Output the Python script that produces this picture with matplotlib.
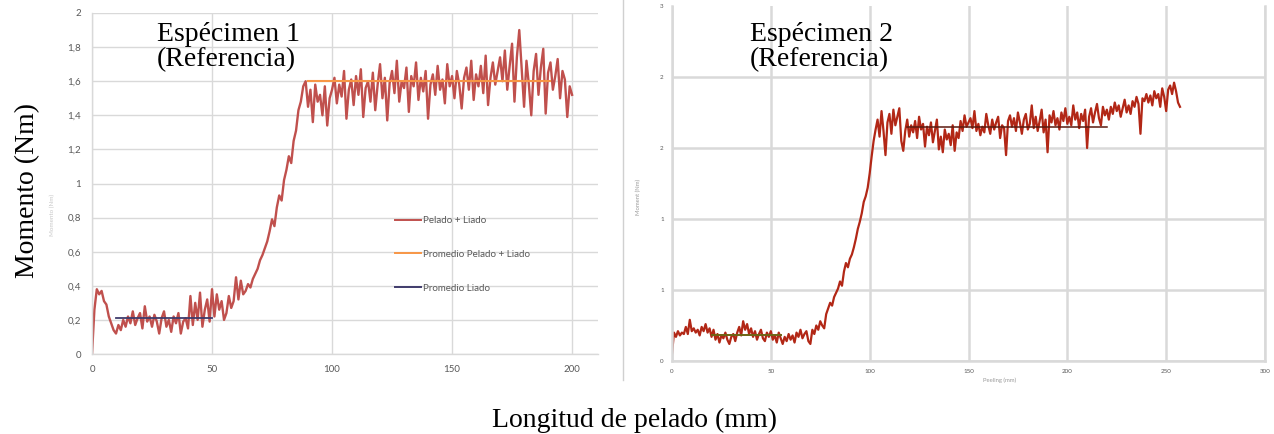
import numpy as np
import matplotlib
matplotlib.use("Agg")
import matplotlib.pyplot as plt
from matplotlib.lines import Line2D

# ---- data, specimen 1 (x in mm, step 1) ----
esp1_y = [
    0.00, 0.26, 0.38, 0.35, 0.37, 0.31, 0.29, 0.22, 0.18, 0.14, 0.12,
    0.17, 0.14, 0.20, 0.16, 0.22, 0.18, 0.25, 0.17, 0.21, 0.24,
    0.15, 0.28, 0.19, 0.22, 0.16, 0.23, 0.19, 0.12, 0.21, 0.25,
    0.16, 0.20, 0.13, 0.22, 0.18, 0.24, 0.12, 0.19, 0.21, 0.15,
    0.34, 0.17, 0.30, 0.20, 0.36, 0.16, 0.26, 0.32, 0.19, 0.38,
    0.22, 0.35, 0.26, 0.31, 0.20, 0.24, 0.34, 0.27, 0.31, 0.45,
    0.32, 0.43, 0.35, 0.37, 0.41, 0.39, 0.44, 0.47, 0.50, 0.55,
    0.58, 0.62, 0.66, 0.72, 0.79, 0.75, 0.86, 0.93, 0.90, 1.02,
    1.08, 1.16, 1.12, 1.25, 1.31, 1.43, 1.48, 1.57, 1.60, 1.45,
    1.55, 1.36, 1.58, 1.48, 1.52, 1.40, 1.57, 1.34, 1.50, 1.55,
    1.62, 1.47, 1.58, 1.51, 1.66, 1.38, 1.55, 1.61, 1.46, 1.63,
    1.52, 1.67, 1.39, 1.56, 1.60, 1.48, 1.65, 1.43, 1.58, 1.70,
    1.50, 1.62, 1.37, 1.59, 1.66, 1.53, 1.72, 1.48, 1.60, 1.56,
    1.68, 1.42, 1.63, 1.57, 1.71, 1.49, 1.62, 1.54, 1.66, 1.38,
    1.58, 1.64, 1.52, 1.69, 1.55, 1.61, 1.47, 1.70, 1.57, 1.63,
    1.50, 1.66, 1.58, 1.44, 1.62, 1.68, 1.55, 1.72, 1.49, 1.64,
    1.57, 1.69, 1.53, 1.75, 1.46, 1.62, 1.71, 1.58, 1.66, 1.74,
    1.60, 1.78, 1.55, 1.69, 1.82, 1.48, 1.74, 1.90, 1.67, 1.45,
    1.72, 1.58, 1.40, 1.66, 1.76, 1.52, 1.68, 1.79, 1.41, 1.65,
    1.71, 1.55, 1.63, 1.73, 1.50, 1.66, 1.61, 1.39, 1.57, 1.52,
]
esp1_x = np.arange(len(esp1_y))
esp1_prom_liado_x = [10, 50]
esp1_prom_liado_y = [0.21, 0.21]
esp1_prom_total_x = [90, 191]
esp1_prom_total_y = [1.60, 1.60]

# ---- data, specimen 2 ----
esp2_y = [
    0.05, 0.20, 0.17, 0.21, 0.18, 0.20, 0.19, 0.24, 0.19, 0.29, 0.21,
    0.23, 0.20, 0.22, 0.18, 0.24, 0.21, 0.26, 0.20, 0.23, 0.17,
    0.22, 0.15, 0.19, 0.13, 0.18, 0.16, 0.20, 0.15, 0.12, 0.17,
    0.19, 0.14, 0.20, 0.24, 0.18, 0.28, 0.22, 0.26, 0.19, 0.23,
    0.17, 0.21, 0.15, 0.19, 0.22, 0.16, 0.14, 0.20, 0.17, 0.21,
    0.15, 0.18, 0.13, 0.20, 0.16, 0.12, 0.17, 0.14, 0.19, 0.15,
    0.18, 0.13, 0.20, 0.17, 0.22, 0.16, 0.19, 0.21, 0.14, 0.12,
    0.22, 0.19, 0.25, 0.22, 0.28, 0.25, 0.23, 0.33, 0.37, 0.41,
    0.39, 0.45, 0.48, 0.51, 0.56, 0.53, 0.63, 0.69, 0.66, 0.72,
    0.75, 0.80, 0.86, 0.93, 0.98, 1.04, 1.12, 1.16, 1.22, 1.32,
    1.44, 1.55, 1.63, 1.70, 1.58, 1.76, 1.62, 1.45, 1.68, 1.74,
    1.60, 1.77, 1.66, 1.72, 1.78, 1.55, 1.48, 1.62, 1.70, 1.58,
    1.66, 1.61, 1.69, 1.57, 1.72, 1.63, 1.67, 1.51, 1.65, 1.59,
    1.68, 1.54, 1.62, 1.70, 1.49, 1.58, 1.47, 1.63, 1.56, 1.60,
    1.52, 1.66, 1.48, 1.61, 1.57, 1.69, 1.62, 1.73, 1.65, 1.68,
    1.71, 1.64, 1.76, 1.62, 1.67, 1.59, 1.65, 1.61, 1.74, 1.66,
    1.60, 1.70, 1.63, 1.68, 1.72, 1.57, 1.66, 1.64, 1.45, 1.69,
    1.73, 1.65, 1.71, 1.62, 1.75, 1.68, 1.60, 1.70, 1.74, 1.63,
    1.67, 1.80, 1.64, 1.72, 1.62, 1.69, 1.77, 1.61, 1.70, 1.47,
    1.73, 1.68, 1.76, 1.66, 1.71, 1.63, 1.75, 1.69, 1.78, 1.67,
    1.72, 1.66, 1.80, 1.70, 1.75, 1.64, 1.74, 1.69, 1.77, 1.50,
    1.72, 1.78, 1.68, 1.75, 1.81, 1.71, 1.66, 1.79, 1.73, 1.77,
    1.70, 1.79, 1.74, 1.82, 1.76, 1.80, 1.72, 1.78, 1.84, 1.75,
    1.80, 1.74, 1.83, 1.79, 1.86, 1.81, 1.60, 1.85, 1.83, 1.88,
    1.82, 1.87, 1.80, 1.90, 1.85, 1.88, 1.79, 1.92, 1.86, 1.76,
    1.91, 1.94, 1.88, 1.96, 1.90, 1.82, 1.79,
]
esp2_x = np.arange(len(esp2_y))
esp2_prom_liado_x = [20, 55]
esp2_prom_liado_y = [0.18, 0.18]
esp2_prom_total_x = [119, 220]
esp2_prom_total_y = [1.65, 1.65]

esp1_yticks = [0, 0.2, 0.4, 0.6, 0.8, 1.0, 1.2, 1.4, 1.6, 1.8, 2.0]
esp1_ylabels = ["0", "0,2", "0,4", "0,6", "0,8", "1", "1,2", "1,4", "1,6", "1,8", "2"]
esp2_yticks = [0, 0.5, 1.0, 1.5, 2.0, 2.5]
esp2_ylabels = ["0", "1", "1", "2", "2", "3"]
legend_labels = ["Pelado + Liado", "Promedio Pelado + Liado", "Promedio Liado"]

W, H = 1274, 434
fig = plt.figure(figsize=(W / 100, H / 100), dpi=100)

def fx(px):
    return px / W

def fy(py):
    return 1 - py / H

grid_c = "#d9d9d9"
tick_c = "#595959"

# left panel (Excel style screenshot)
ax1 = fig.add_axes([fx(92), fy(354), fx(598 - 92), (354 - 13) / H])
ax1.plot(esp1_x, esp1_y, color="#c0504d", lw=1.7)
ax1.plot(esp1_prom_total_x, esp1_prom_total_y, color="#f79646", lw=1.5)
ax1.plot(esp1_prom_liado_x, esp1_prom_liado_y, color="#3f3b6c", lw=1.3)
ax1.set_xlim(0, 210.8)
ax1.set_ylim(0, 2)
ax1.set_xticks([0, 50, 100, 150, 200])
ax1.set_yticks(esp1_yticks)
ax1.set_yticklabels(esp1_ylabels)
ax1.grid(True, color=grid_c, lw=1.0)
ax1.set_axisbelow(True)
for s in ["top", "right"]:
    ax1.spines[s].set_visible(False)
for s in ["left", "bottom"]:
    ax1.spines[s].set_color(grid_c)
    ax1.spines[s].set_linewidth(1.0)
ax1.tick_params(length=0, colors=tick_c, labelsize=7, pad=8)
for t in ax1.get_xticklabels() + ax1.get_yticklabels():
    t.set_family("Lato")

handles = [Line2D([], [], color="#c0504d", lw=1.4),
           Line2D([], [], color="#f79646", lw=1.4),
           Line2D([], [], color="#3f3b6c", lw=1.4)]
leg = ax1.legend(handles, legend_labels, loc="upper left",
                 bbox_to_anchor=(fx(395), fy(216)), bbox_transform=fig.transFigure,
                 frameon=False, borderpad=0, borderaxespad=0, handlelength=2.7,
                 handletextpad=0.2, labelspacing=2.55,
                 prop={"family": "Lato", "size": 7})
for t in leg.get_texts():
    t.set_color(tick_c)

# faint original axis title of the screenshot
fig.text(fx(52), fy(215), "Momento (Nm)", rotation=90, fontsize=4.5,
         color="#c8c8c8", ha="center", va="center", family="Lato")

# separator of the second screenshot
fig.add_artist(Line2D([fx(623), fx(623)], [fy(0), fy(380)], color="#d0d0d0", lw=1.0))

# right panel
ax2 = fig.add_axes([fx(672), fy(361), fx(1265 - 672), 355 / H])
ax2.plot(esp2_x, esp2_y, color="#b22716", lw=1.6)
ax2.plot(esp2_prom_total_x, esp2_prom_total_y, color="#5a1a10", lw=1.1)
ax2.plot(esp2_prom_liado_x, esp2_prom_liado_y, color="#6e6414", lw=1.4)
ax2.set_xlim(0, 300)
ax2.set_ylim(0, 2.5)
ax2.set_xticks([0, 50, 100, 150, 200, 250, 300])
ax2.set_yticks(esp2_yticks)
ax2.set_yticklabels(esp2_ylabels)
ax2.grid(True, color=grid_c, lw=1.8)
ax2.yaxis.get_gridlines()[-1].set_visible(False)
ax2.set_axisbelow(True)
ax2.spines["top"].set_visible(False)
for s in ["left", "bottom", "right"]:
    ax2.spines[s].set_color(grid_c)
    ax2.spines[s].set_linewidth(1.8)
ax2.tick_params(length=0, colors=tick_c, labelsize=4.5, pad=6)
for t in ax2.get_xticklabels() + ax2.get_yticklabels():
    t.set_family("Lato")
fig.text(fx(638), fy(197), "Moment (Nm)", rotation=90, fontsize=4.2,
         color="#9a9a9a", ha="center", va="center", family="Lato")
fig.text(fx(1000), fy(380), "Peeling (mm)", fontsize=4.2,
         color="#9a9a9a", ha="center", va="center", family="Lato")

# overlaid annotations (Times-like)
serif = "Liberation Serif"
fig.text(fx(157), fy(22), "Espécimen 1\n(Referencia)", fontsize=20,
         family=serif, ha="left", va="top", linespacing=1.0)
fig.text(fx(750), fy(22), "Espécimen 2\n(Referencia)", fontsize=20,
         family=serif, ha="left", va="top", linespacing=1.0)
fig.text(fx(28), fy(190), "Momento (Nm)", rotation=90, fontsize=20,
         family=serif, ha="center", va="center")
fig.text(fx(635), fy(420), "Longitud de pelado (mm)", fontsize=20,
         family=serif, ha="center", va="center")

fig.savefig("out.png", dpi=100)
